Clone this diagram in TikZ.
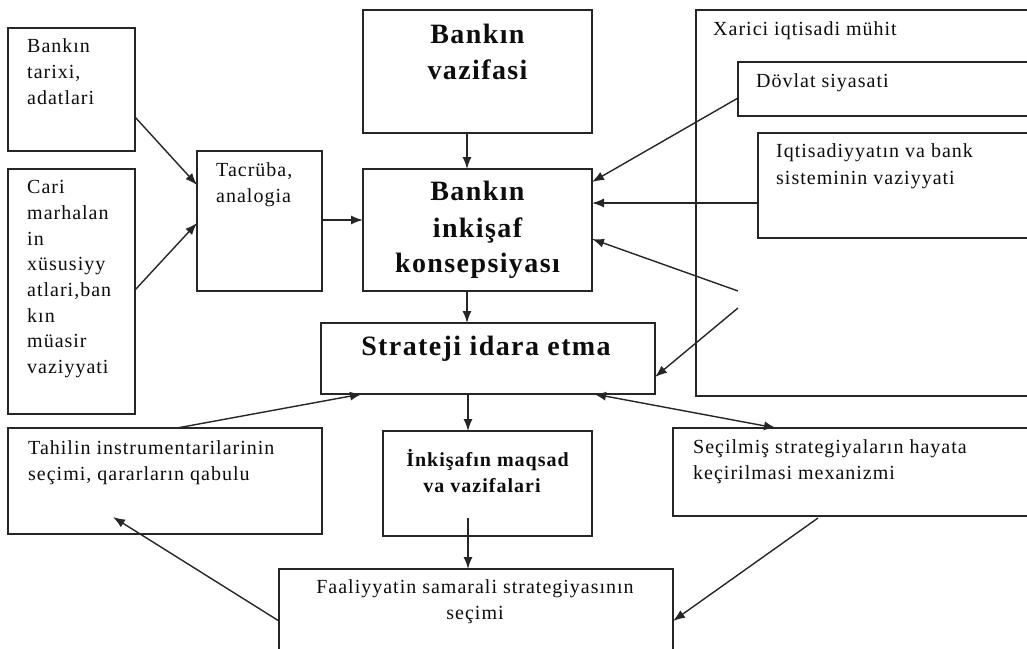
\documentclass[tikz,border=0pt]{standalone}
\usepackage{fontspec}
\setmainfont[LetterSpace=5]{Liberation Serif}
\usetikzlibrary{arrows.meta,fit,calc}
\begin{document}
\begin{tikzpicture}[x=1pt,y=-1pt,
 bx/.style={draw=black!85, line width=1.4pt, inner sep=0pt, outer sep=0pt},
 tx/.style={inner sep=0pt, text=black!95, font=\fontsize{20}{24}\selectfont, anchor=base west},
 tb/.style={inner sep=0pt, text=black!95, font=\fontsize{28}{34}\selectfont\bfseries, anchor=base},
 tm/.style={inner sep=0pt, text=black!95, font=\fontsize{20}{24}\selectfont\bfseries, anchor=base},
 ar/.style={-{Latex[length=12pt,width=9pt]}, line width=1.4pt, draw=black!85},
 arr/.style={{Latex[length=12pt,width=9pt]}-{Latex[length=12pt,width=9pt]}, line width=1.4pt, draw=black!85},
]
\useasboundingbox (0,0) rectangle (1027,648);
\clip (0,0) rectangle (1027,648);
\fill[white] (0,0) rectangle (1027,648);

% boxes
\node[bx, fit={(8,28) (135,151)}] (A) {};
\node[bx, fit={(8,169) (135,414)}] (B) {};
\node[bx, fit={(197,151) (322,291)}] (T) {};
\node[bx, fit={(363,10) (592,133)}] (V) {};
\node[bx, fit={(363,169) (592,291)}] (K) {};
\node[bx, fit={(321,323) (655,394)}] (S) {};
\node[bx, fit={(696,10) (1040,396)}] (X) {};
\node[bx, fit={(738,62) (1040,116)}] (D) {};
\node[bx, fit={(758,133) (1040,238)}] (I) {};
\node[bx, fit={(383,431) (592,536)}] (M) {};
\node[bx, fit={(8,428) (322,534)}] (L) {};
\node[bx, fit={(673,428) (1040,516)}] (R) {};
\node[bx, fit={(279,569) (673,670)}] (F) {};

% texts
\node[tx] (a1) at (27,52) {Bankın};
\node[tx] (a2) at (27,78) {tarixi,};
\node[tx] (a3) at (27,104) {adatlari};

\node[tx] (b1) at (27,193) {Cari};
\node[tx] (b2) at (27,219) {marhalan};
\node[tx] (b3) at (27,245) {in};
\node[tx] (b4) at (27,270) {xüsusiyy};
\node[tx] (b5) at (27,296) {atlari,ban};
\node[tx] (b6) at (27,322) {kın};
\node[tx] (b7) at (27,347) {müasir};
\node[tx] (b8) at (27,373) {vaziyyati};

\node[tx] (t1) at (216,176) {Tacrüba,};
\node[tx] (t2) at (216,202) {analogia};

\node[tb] (v1) at (477.5,43) {Bankın};
\node[tb] (v2) at (477.5,79) {vazifasi};

\node[tb] (k1) at (477.5,200) {Bankın};
\node[tb] (k2) at (477.5,237) {inkişaf};
\node[tb] (k3) at (477.5,272) {konsepsiyası};

\node[tb] (s1) at (486,355) {Strateji idara etma};

\node[tm] (m1) at (487.5,466) {İnkişafın maqsad};
\node[tm] (m2) at (482,492) {va vazifalari};

\node[tx, anchor=base] (f1) at (475,593) {Faaliyyatin samarali strategiyasının};
\node[tx, anchor=base] (f2) at (475,619) {seçimi};

\node[tx] (l1) at (28,454) {Tahilin instrumentarilarinin};
\node[tx] (l2) at (28,480) {seçimi, qararların qabulu};

\node[tx] (r1) at (693,453) {Seçilmiş strategiyaların hayata};
\node[tx] (r2) at (693,479) {keçirilmasi mexanizmi};

\node[tx] (x1) at (713,35) {Xarici iqtisadi mühit};
\node[tx] (d1) at (756,87) {Dövlat siyasati};
\node[tx] (i1) at (776,157) {Iqtisadiyyatın va bank};
\node[tx] (i2) at (776,184) {sisteminin vaziyyati};

% free ends inside the outer box
\coordinate (c1) at (738,291);
\coordinate (c2) at (738,308);

% connectors
\draw[ar] ($(A.north east)+(0,89)$) -- ($(T.north west)+(0,34)$);
\draw[ar] ($(B.north east)+(0,121)$) -- ($(T.north west)+(0,72)$);
\draw[ar] ($(T.north east)+(0,69)$) -- ($(K.north west)+(0,51)$);
\draw[ar] ($(V.south west)+(104,0)$) -- ($(K.north west)+(104,0)$);
\draw[ar] ($(K.south west)+(104,0)$) -- ($(S.north west)+(146,0)$);
\draw[ar] ($(S.south west)+(147,0)$) -- ($(M.north west)+(85,0)$);
\draw[ar] ($(M.south west)+(85,-18)$) -- ($(F.north west)+(189,0)$);
\draw[ar] ($(D.north west)+(0,36)$) -- ($(K.north east)+(0,13)$);
\draw[ar] ($(I.north west)+(0,70)$) -- ($(K.north east)+(0,34)$);
\draw[ar] (c1) -- ($(K.north east)+(0,70)$);
\draw[ar] (c2) -- ($(S.north east)+(0,54)$);
\draw[ar] ($(L.north west)+(169,0)$) -- ($(S.south west)+(41,0)$);
\draw[arr] ($(S.south west)+(273,0)$) -- ($(R.north west)+(103,0)$);
\draw[ar] ($(R.south west)+(145,2)$) -- ($(F.north east)+(0,52)$);
\draw[ar] ($(F.north west)+(0,52)$) -- ($(L.south west)+(105,-17)$);
\end{tikzpicture}
\end{document}
